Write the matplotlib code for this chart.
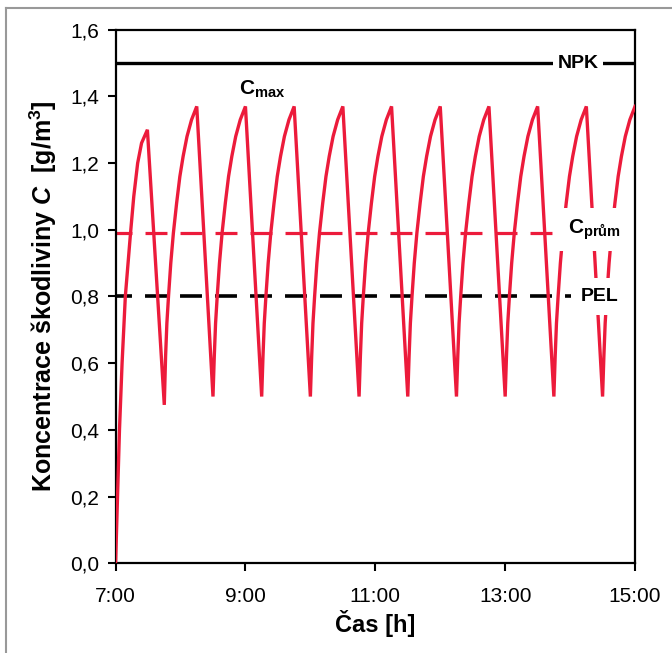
import numpy as np
from matplotlib import pyplot as plt
from matplotlib import font_manager
from matplotlib.lines import Line2D

# font: narrow Arial-like if available
names = {f.name for f in font_manager.fontManager.ttflist}
FONT = 'Liberation Sans Narrow' if 'Liberation Sans Narrow' in names else 'Liberation Sans'
plt.rcParams['font.family'] = [FONT, 'DejaVu Sans']
plt.rcParams['mathtext.fontset'] = 'custom'
plt.rcParams['mathtext.rm'] = FONT + ':bold'
plt.rcParams['mathtext.bf'] = FONT + ':bold'
plt.rcParams['mathtext.it'] = FONT + ':bold:italic'
plt.rcParams['lines.scale_dashes'] = False

RED = '#EC1B3B'

# first filling of the room, 7:00 -> first peak
start_t = [7.0, 7.03, 7.06, 7.1, 7.15, 7.23, 7.28, 7.34, 7.4, 7.49]
start_c = [0.0, 0.2, 0.4, 0.6, 0.8, 0.99, 1.1, 1.2, 1.26, 1.30]

# troughs = start of each next cycle
trough_t = [7.75, 8.5, 9.25, 10.0, 10.75, 11.5, 12.25, 13.0, 13.75, 14.5]
trough_c = [0.475, 0.5, 0.5, 0.5, 0.5, 0.5, 0.5, 0.5, 0.5, 0.5]

# shape of one rise (hours after trough)
rise_dt = [0.0, 0.02, 0.04, 0.065, 0.1, 0.14, 0.19, 0.24, 0.29, 0.35, 0.42, 0.5]
rise_c = [0.5, 0.62, 0.72, 0.8, 0.9, 0.99, 1.08, 1.16, 1.22, 1.28, 1.33, 1.37]

# limits
NPK = 1.5
C_PRUM = 0.99
PEL = 0.8

# build the curve: start, then each trough followed by its rise
t = list(start_t)
c = list(start_c)
for tt, tc in zip(trough_t, trough_c):
    t.extend([tt + d for d in rise_dt])
    c.extend([tc] + rise_c[1:])

fig = plt.figure(figsize=(6.72, 6.53), dpi=100)
ax = fig.add_axes([0.172, 0.1374, 0.773, 0.8171])

ax.plot(t, c, color=RED, lw=2.4, zorder=3, solid_joinstyle='miter')
ax.axhline(NPK, color='black', lw=2.4, zorder=2)
ax.axhline(C_PRUM, color=RED, lw=2.3, zorder=2, linestyle=(4.3, (15.8, 9.4)))
ax.axhline(PEL, color='black', lw=2.6, zorder=2, linestyle=(4.3, (15.8, 9.4)))

# labels with white box over the lines
ax.text(14.12, NPK, 'NPK', ha='center', va='center', fontsize=14,
        fontweight='bold', zorder=5,
        bbox=dict(facecolor='white', edgecolor='none', boxstyle='square,pad=0.25'))
ax.text(9.26, 1.42, r'$\mathrm{C}_{\mathrm{max}}$', ha='center', va='center',
        fontsize=15, zorder=5)
ax.text(14.37, 1.0, r'$\mathrm{C}_{\mathrm{prům}}$', ha='center', va='center',
        fontsize=15, zorder=5,
        bbox=dict(facecolor='white', edgecolor='none', boxstyle='square,pad=0.45'))
ax.text(14.46, PEL, 'PEL', ha='center', va='center', fontsize=14,
        fontweight='bold', zorder=5,
        bbox=dict(facecolor='white', edgecolor='none', boxstyle='square,pad=0.5'))

ax.set_xlim(7, 15)
ax.set_ylim(0, 1.6)
ax.set_xticks([7, 9, 11, 13, 15])
ax.set_xticklabels(['7:00', '9:00', '11:00', '13:00', '15:00'])
yt = np.arange(0, 1.61, 0.2)
ax.set_yticks(yt)
ax.set_yticklabels([('%.1f' % v).replace('.', ',') for v in yt])

ax.tick_params(axis='both', direction='out', length=6, width=1.5, labelsize=15)
ax.tick_params(axis='x', pad=11)
ax.tick_params(axis='y', pad=6)
for s in ax.spines.values():
    s.set_linewidth(1.6)

ax.set_xlabel('Čas [h]', fontsize=17, fontweight='bold', labelpad=3)
ax.set_ylabel(r'Koncentrace škodliviny $C$  [g/m$^3$]', fontsize=18,
              fontweight='bold', labelpad=8)

# thin grey frame on the left and top of the picture
fig.add_artist(Line2D([0.009, 0.009], [0, 0.988], color='#999999', lw=1.5,
                      transform=fig.transFigure))
fig.add_artist(Line2D([0.009, 1], [0.988, 0.988], color='#999999', lw=1.5,
                      transform=fig.transFigure))

fig.savefig('out.png', dpi=100)
